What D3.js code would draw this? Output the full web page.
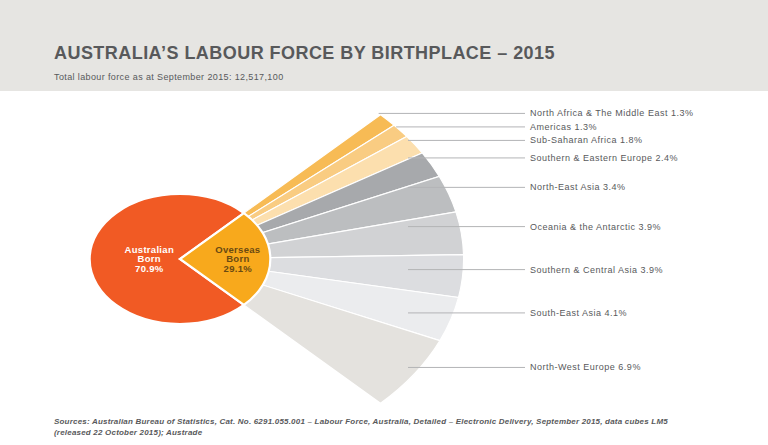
<!DOCTYPE html>
<html><head><meta charset="utf-8">
<script src="https://cdn.jsdelivr.net/npm/d3@7"></script>
<style>
body{margin:0;background:#fff}
svg{display:block;font-family:"Liberation Sans",Arial,Helvetica,sans-serif}
</style>
</head><body>
<svg id="chart" width="768" height="445"></svg>
<script>
// ---- data ----
const regions = ["North Africa & The Middle East","Americas","Sub-Saharan Africa","Southern & Eastern Europe","North-East Asia","Oceania & the Antarctic","Southern & Central Asia","South-East Asia","North-West Europe"];
const regionShares = [1.3,1.3,1.8,2.4,3.4,3.9,3.9,4.1,6.9];
const birthGroups = ["Australian Born","Overseas Born"];
const birthShares = [70.9,29.1];
const titleText = "AUSTRALIA\u2019S LABOUR FORCE BY BIRTHPLACE \u2013 2015";
const subtitleText = "Total labour force as at September 2015: 12,517,100";
const sourceLines = ["Sources: Australian Bureau of Statistics, Cat. No. 6291.055.001 \u2013 Labour Force, Australia, Detailed \u2013 Electronic Delivery, September 2015, data cubes LM5","(released 22 October 2015); Austrade"];

// ---- styles ----
const regionColors = ["#f7bb55","#f9cc82","#fcdfae","#a7a9ac","#bcbec0","#d1d2d4","#dcdde0","#ebecee","#e4e2de"];
const birthColors = ["#f15a24","#f8a91c"];
const textColor = "#58595b";

// ---- layout ----
const W = 768, H = 445;
const cx = 180, cy = 259, sx = 1.39;
const pieR = 65, fanR = 204;
const fanStart = Math.PI/4, fanEnd = 3*Math.PI/4;

const svg = d3.select("#chart");

// header band
svg.append("rect").attr("x",0).attr("y",0).attr("width",W).attr("height",91).attr("fill","#e6e5e2");
svg.append("text").attr("x",54).attr("y",59).attr("fill",textColor)
  .attr("font-size",18).attr("font-weight","bold").attr("letter-spacing",0.45).text(titleText);
svg.append("text").attr("x",54).attr("y",80).attr("fill",textColor)
  .attr("font-size",9).attr("letter-spacing",0.38).text(subtitleText);

// stretched chart group
const g = svg.append("g").attr("transform",`translate(${cx},${cy}) scale(${sx},1)`);

// fan (breakdown of overseas born)
const fanPie = d3.pie().sort(null).value(d=>d).startAngle(fanStart).endAngle(fanEnd);
const fanArcs = fanPie(regionShares);
const fanArc = d3.arc().innerRadius(0).outerRadius(fanR);
g.selectAll("path.fan").data(fanArcs).join("path").attr("class","fan")
  .attr("d",fanArc)
  .attr("fill",(d,i)=>regionColors[i])
  .attr("stroke","#fff").attr("stroke-width",1.1)
  .attr("vector-effect","non-scaling-stroke");

// main pie: overseas wedge opens onto the fan
const mainSlices = [
  {name:birthGroups[0], value:birthShares[0], startAngle:fanEnd, endAngle:fanStart+2*Math.PI},
  {name:birthGroups[1], value:birthShares[1], startAngle:fanStart, endAngle:fanEnd}
];
const mainArc = d3.arc().innerRadius(0).outerRadius(pieR);
g.selectAll("path.main").data(mainSlices).join("path").attr("class","main")
  .attr("d",mainArc)
  .attr("fill",(d,i)=>birthColors[i])
  .attr("stroke","#fff").attr("stroke-width",2.2).attr("stroke-linejoin","miter")
  .attr("vector-effect","non-scaling-stroke");

// pie labels
const pieLabelR = [0.34, 0.64];
const pieTextColors = ["#ffffff","#6a4a12"];
mainSlices.forEach((s,i)=>{
  const mid = (s.startAngle+s.endAngle)/2;
  const x = cx + sx*pieR*pieLabelR[i]*Math.sin(mid);
  const lines = s.name.split(" ").concat([d3.format(".1f")(s.value)+"%"]);
  const t = svg.append("text").attr("text-anchor","middle").attr("fill",pieTextColors[i])
    .attr("font-size",9.5).attr("font-weight","bold").attr("letter-spacing",0.3);
  lines.forEach((ln,k)=>{
    t.append("tspan").attr("x",x).attr("y",cy - 6.5 + k*9.7).text(ln);
  });
});

// region labels with leader lines
const labelY = [];
fanArcs.forEach((d,i)=>{
  const mid = (d.startAngle+d.endAngle)/2;
  let y = cy - 6.5 - fanR*Math.cos(mid);
  if (i>0) y = Math.max(y, labelY[i-1]+13.5);
  labelY.push(y);
});
const lineX0 = 408, lineX1 = 525, textX = 530;
fanArcs.forEach((d,i)=>{
  const y = labelY[i];
  const dy = y - cy;
  const arcX = cx + sx*Math.sqrt(Math.max(0,fanR*fanR - dy*dy));
  svg.append("line").attr("x1",Math.min(lineX0,arcX)).attr("x2",lineX1)
    .attr("y1",y).attr("y2",y).attr("stroke","#b3b4b6").attr("stroke-width",1);
  svg.append("text").attr("x",textX).attr("y",y+3).attr("fill",textColor)
    .attr("font-size",9).attr("letter-spacing",0.5)
    .text(`${regions[i]} ${d3.format(".1f")(regionShares[i])}%`);
});

// sources
sourceLines.forEach((ln,k)=>{
  svg.append("text").attr("x",54).attr("y",424 + k*10.5).attr("fill",textColor)
    .attr("font-size",8).attr("font-weight","bold").attr("font-style","italic")
    .attr("letter-spacing",0.2).text(ln);
});
</script>
</body></html>
